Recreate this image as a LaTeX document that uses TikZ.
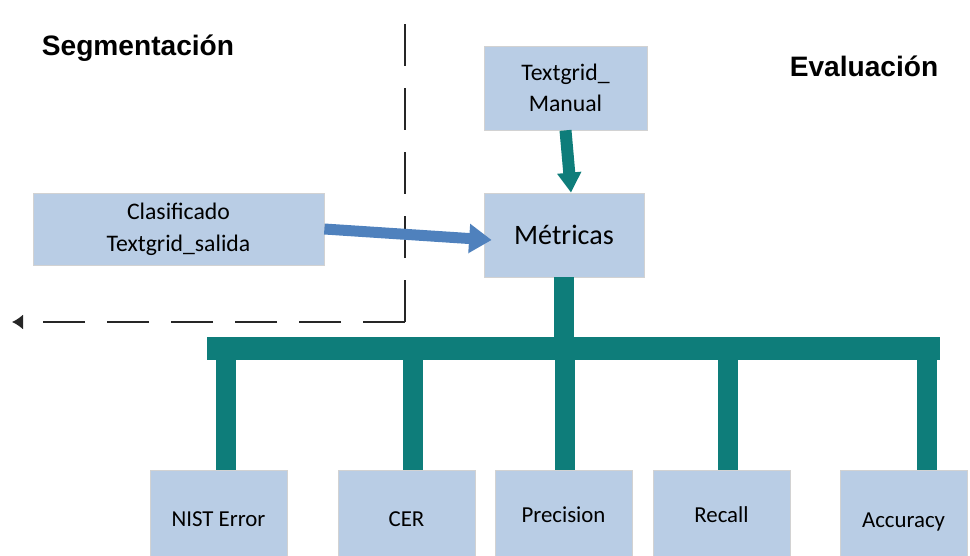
\documentclass[tikz,border=0pt]{standalone}
\usepackage{fontspec}
\setmainfont{Carlito}
\newfontfamily\headfont{Liberation Sans}
\usetikzlibrary{positioning}
\usetikzlibrary{calc}
\usetikzlibrary{arrows.meta}

\definecolor{boxblue}{RGB}{185,205,229}
\definecolor{barteal}{RGB}{14,125,122}
\definecolor{arrowblue}{RGB}{79,129,189}

\tikzset{
  metricbox/.style={align=center, fill=boxblue, draw=gray!35, line width=0.4pt, inner sep=0pt},
  header/.style={font=\headfont\bfseries\fontsize{16}{19}\selectfont},
  stem/.style={draw=barteal, line width=0.4cm},
  dashline/.style={draw=black!85, line width=0.9pt, dash pattern=on 0.84cm off 0.44cm}
}

\begin{document}
\begin{tikzpicture}

\pgfmathsetmacro{\BOTY}{-10.3}
\pgfmathsetmacro{\BOTW}{2.74}
\pgfmathsetmacro{\BOTH}{1.8}

\useasboundingbox (0, 0) rectangle (19.4, -11.12);

\node [header] (seg) at (2.76, -0.96) {Segmentación};
\node [header] (eva) at (17.28, -1.32) {Evaluación};

\coordinate (dtop) at (8.1, -0.2);
\coordinate (dcorner) at (8.1, -6.44);
\coordinate (dend) at (0.24, -6.44);
\draw [dashline] (dcorner) -- (dtop);
\draw [dashline, -{Latex[length=2.2mm, width=3mm]}] (dcorner) -- (dend);

\node [metricbox, minimum width=3.26cm, minimum height=1.68cm,
font=\fontsize{13.5}{18}\selectfont] (manual) at (11.31, -1.76) {Textgrid\_\\Manual};

\node [metricbox, minimum width=3.2cm, minimum height=1.68cm,
font=\fontsize{16}{18}\selectfont] (metricas) at (11.28, -4.70) {Métricas};

\node [metricbox, minimum width=5.82cm, minimum height=1.44cm,
font=\fontsize{13.5}{18}\selectfont] (clasif) at (3.57, -4.58) {Clasificado\\Textgrid\_salida};

\node [fill=barteal, minimum width=14.66cm, minimum height=0.46cm, inner sep=0pt]
(bus) at (11.47, -6.97) {};

\node [metricbox, minimum width=\BOTW cm, minimum height=\BOTH cm, text height=0.45cm, text depth=0cm,
font=\fontsize{13}{16}\selectfont] (nist) at (4.37, \BOTY) {NIST Error};
\node [metricbox, minimum width=\BOTW cm, minimum height=\BOTH cm, text height=0.45cm, text depth=0cm,
font=\fontsize{13}{16}\selectfont] (cer) at (8.13, \BOTY) {CER};
\node [metricbox, minimum width=\BOTW cm, minimum height=\BOTH cm,
font=\fontsize{13}{16}\selectfont] (prec) at (11.27, \BOTY) {Precision};
\node [metricbox, minimum width=\BOTW cm, minimum height=\BOTH cm,
font=\fontsize{13}{16}\selectfont] (rec) at (14.43, \BOTY) {Recall};
\node [metricbox, minimum width=2.54cm, minimum height=\BOTH cm, text height=0.49cm, text depth=0cm,
font=\fontsize{13}{16}\selectfont] (acc) at (18.07, \BOTY) {Accuracy};

\draw [stem] (metricas.south) -- (metricas.south |- bus.north);
\draw [stem] ($(nist.north) + (0.15, 0)$) -- ($(nist.north |- bus.south) + (0.15, 0)$);
\draw [stem] ($(cer.north) + (0.13, 0)$) -- ($(cer.north |- bus.south) + (0.13, 0)$);
\draw [stem] ($(prec.north) + (0.03, 0)$) -- ($(prec.north |- bus.south) + (0.03, 0)$);
\draw [stem] ($(rec.north) + (0.13, 0)$) -- ($(rec.north |- bus.south) + (0.13, 0)$);
\draw [stem] ($(acc.north) + (0.47, 0)$) -- ($(acc.north |- bus.south) + (0.47, 0)$);

\draw [draw=arrowblue, line width=0.22cm, -{Triangle[width=0.56cm, length=0.45cm]}]
(clasif.east) -- ($(metricas.west) + (0.16, -0.1)$);

\draw [draw=barteal, line width=0.24cm, -{Triangle[width=0.46cm, length=0.4cm]}]
(manual.south) -- ($(metricas.north) + (0.14, 0)$);

\end{tikzpicture}
\end{document}
